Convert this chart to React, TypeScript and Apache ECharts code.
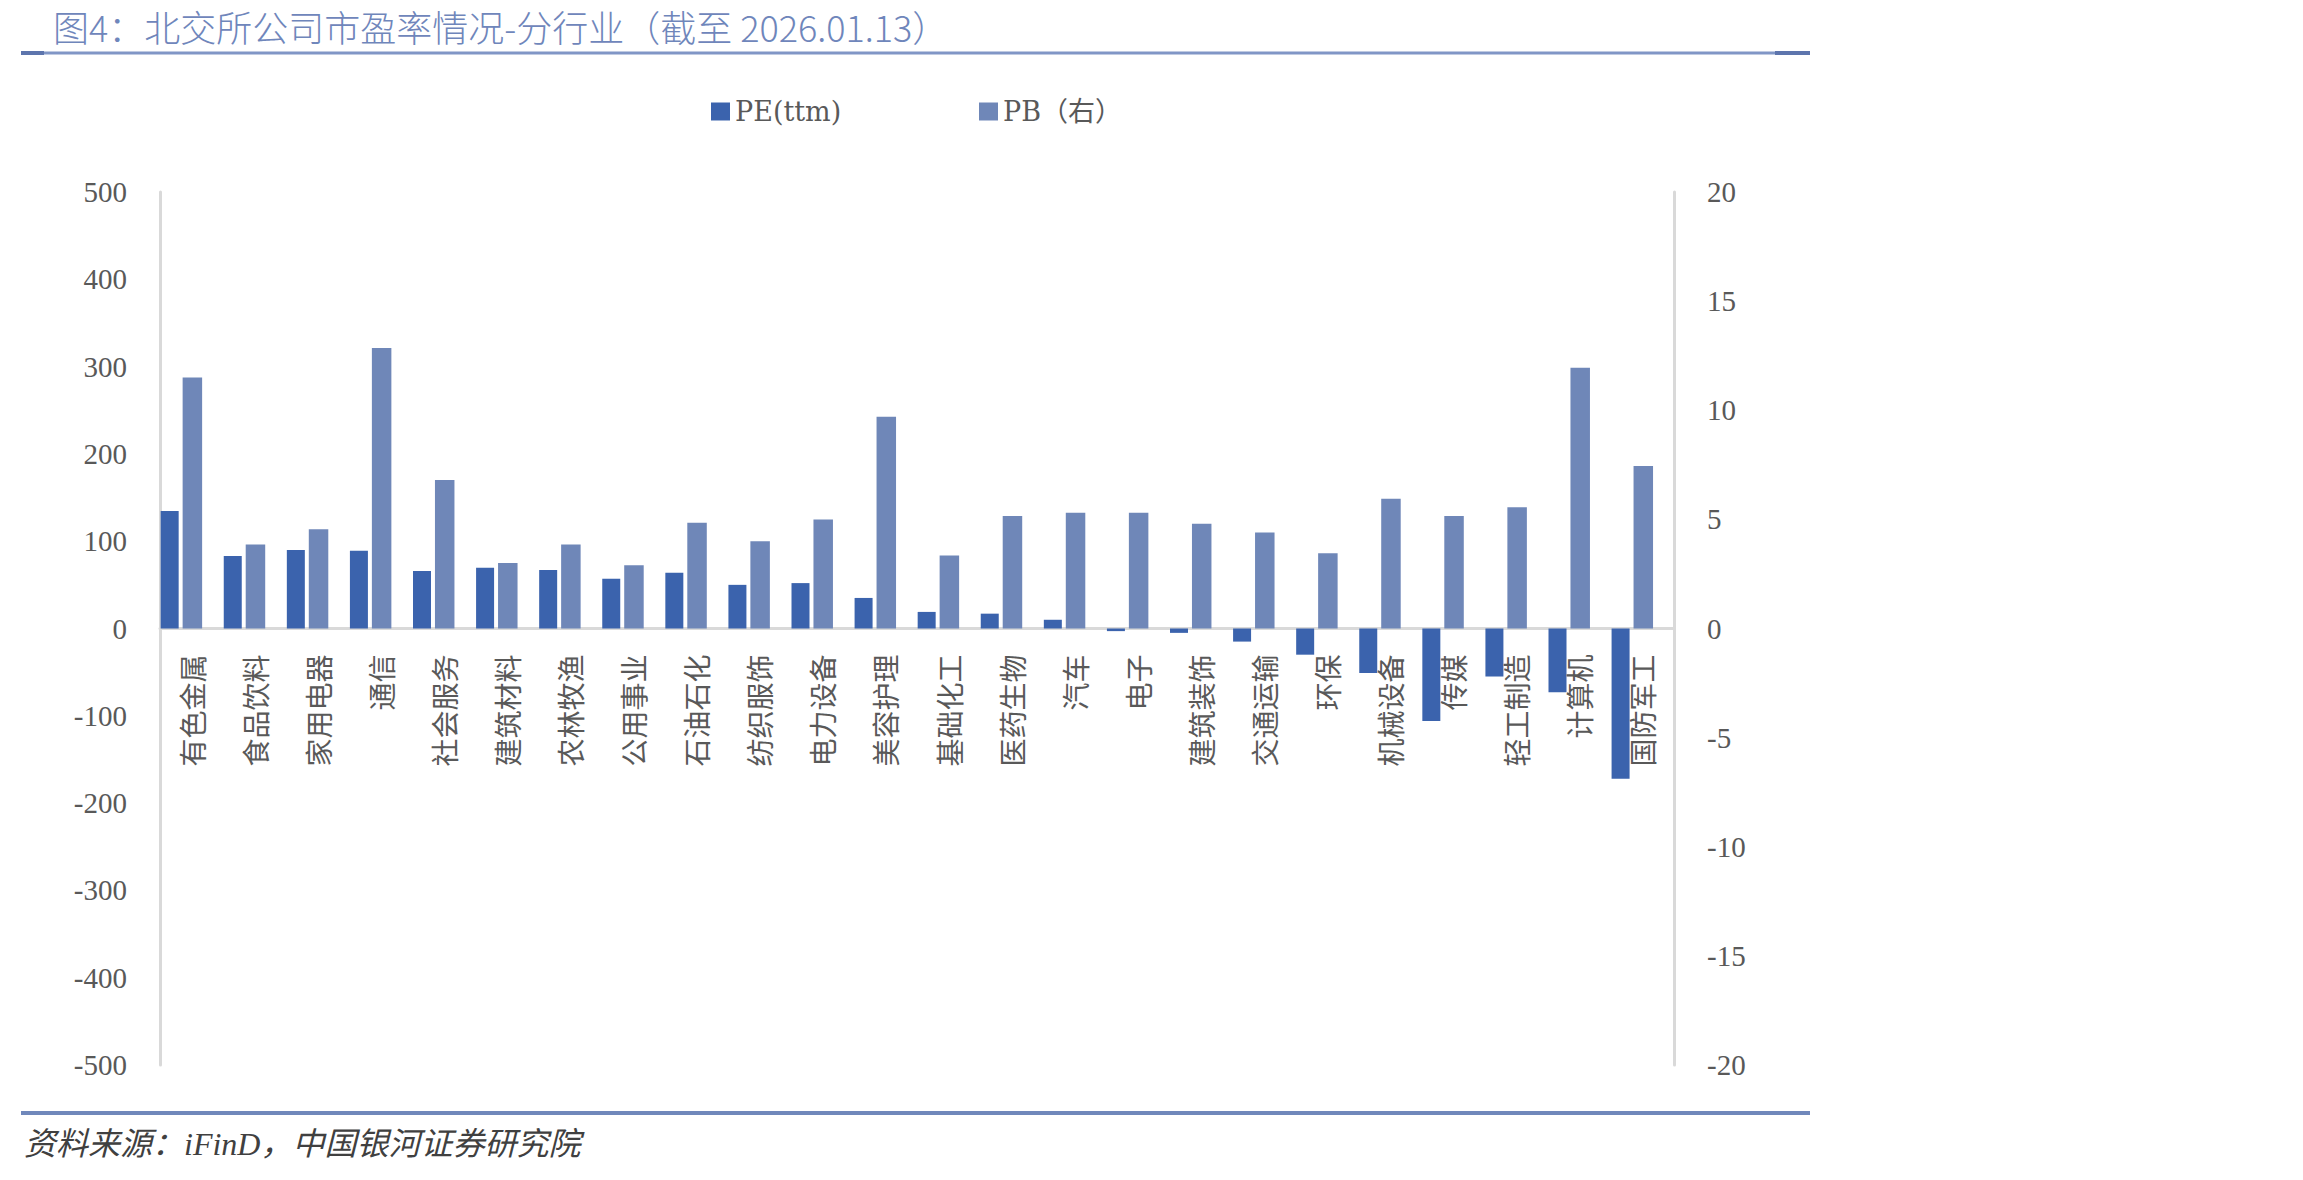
import React, { useEffect, useRef } from "react";
import * as echarts from "echarts";

// 行业分类
const industries = [
  "有色金属", "食品饮料", "家用电器", "通信", "社会服务", "建筑材料",
  "农林牧渔", "公用事业", "石油石化", "纺织服饰", "电力设备", "美容护理",
  "基础化工", "医药生物", "汽车", "电子", "建筑装饰", "交通运输",
  "环保", "机械设备", "传媒", "轻工制造", "计算机", "国防军工",
];

// 市盈率 PE(ttm)
const peTtm = [
  134.5, 83, 90, 89, 66, 69.5, 67, 57, 64, 50, 52, 35,
  19, 17, 10, -3, -5, -15, -30, -51, -106, -55, -73, -172,
];

// 市净率 PB（右轴）
const pb = [
  11.5, 3.85, 4.55, 12.85, 6.8, 3.0, 3.85, 2.9, 4.85, 4.0, 5.0, 9.7,
  3.35, 5.15, 5.3, 5.3, 4.8, 4.4, 3.45, 5.95, 5.15, 5.55, 11.95, 7.45,
];

const legendNames = ["PE(ttm)", "PB（右）"];

const titleText = "图4：北交所公司市盈率情况-分行业（截至 2026.01.13）";
const sourceText = "资料来源：iFinD，中国银河证券研究院";

const W = 2303;
const H = 1180;
const SERIF = '"Liberation Serif", "Noto Sans CJK SC", serif';
const SANS = '"Noto Sans CJK SC", "Noto Sans", sans-serif';
const LEGEND_FONT = '"DejaVu Serif", "Noto Sans CJK SC", serif';
const PE_COLOR = "#3b63ad";
const PB_COLOR = "#6f87b8";
const AXIS_GREY = "#d9d9d9";
const TEXT_GREY = "#595959";

// plot area
const GRID_LEFT = 160;
const GRID_RIGHT = 629;
const GRID_TOP = 192;
const GRID_BOTTOM = 115;
const PE_MIN = -500;
const PE_MAX = 500;

export default function App() {
  const ref = useRef<HTMLDivElement>(null);

  useEffect(() => {
    if (!ref.current) return;
    const chart = echarts.init(ref.current, null, { renderer: "svg" });

    // the category axis (line and labels) sits on the left axis' zero
    const plotH = H - GRID_TOP - GRID_BOTTOM;
    const zeroY = GRID_TOP + (PE_MAX / (PE_MAX - PE_MIN)) * plotH;
    const xAxisOffset = zeroY - (H - GRID_BOTTOM);

    chart.setOption({
      animation: false,
      backgroundColor: "#ffffff",
      textStyle: { fontFamily: SERIF },
      graphic: [
        {
          type: "text",
          x: 53,
          y: 26,
          style: {
            text: titleText,
            fontSize: 36,
            fontWeight: 300,
            fontFamily: SANS,
            fill: "#6f86bb",
            verticalAlign: "middle",
          },
        },
        {
          type: "line",
          shape: { x1: 21, y1: 53, x2: 1810, y2: 53 },
          style: { stroke: "#8096c6", lineWidth: 3 },
        },
        {
          type: "line",
          shape: { x1: 21, y1: 53, x2: 44, y2: 53 },
          style: { stroke: "#5d75ad", lineWidth: 4 },
        },
        {
          type: "line",
          shape: { x1: 1775, y1: 53, x2: 1810, y2: 53 },
          style: { stroke: "#5d75ad", lineWidth: 4 },
        },
        {
          type: "line",
          shape: { x1: 21, y1: 1113, x2: 1810, y2: 1113 },
          style: { stroke: "#7088bb", lineWidth: 4 },
        },
        {
          type: "text",
          left: 24,
          top: 1128,
          style: {
            text: sourceText,
            fontSize: 32,
            fontStyle: "italic",
            fontFamily: SERIF,
            fill: "#404040",
          },
        },
      ],
      legend: [
        {
          data: [legendNames[0]],
          left: 706,
          top: 93,
          itemWidth: 19,
          itemHeight: 18,
          icon: "rect",
          textStyle: { fontSize: 27, color: TEXT_GREY, fontFamily: LEGEND_FONT },
        },
        {
          data: [legendNames[1]],
          left: 974,
          top: 93,
          itemWidth: 19,
          itemHeight: 18,
          icon: "rect",
          textStyle: { fontSize: 27, color: TEXT_GREY, fontFamily: LEGEND_FONT },
        },
      ],
      grid: {
        left: GRID_LEFT,
        right: GRID_RIGHT,
        top: GRID_TOP,
        bottom: GRID_BOTTOM,
        containLabel: false,
      },
      xAxis: {
        type: "category",
        data: industries,
        position: "bottom",
        offset: xAxisOffset,
        axisLine: { onZero: false, lineStyle: { color: AXIS_GREY, width: 3 } },
        axisTick: { show: false },
        axisLabel: {
          rotate: 90,
          margin: 26,
          fontSize: 28,
          color: TEXT_GREY,
          fontFamily: SANS,
          interval: 0,
        },
        splitLine: { show: false },
      },
      yAxis: [
        {
          type: "value",
          min: PE_MIN,
          max: PE_MAX,
          interval: 100,
          axisLine: { show: true, onZero: false, lineStyle: { color: AXIS_GREY, width: 3 } },
          axisTick: { show: false },
          splitLine: { show: false },
          axisLabel: { fontSize: 29, color: TEXT_GREY, margin: 33, fontFamily: SERIF },
        },
        {
          type: "value",
          min: -20,
          max: 20,
          interval: 5,
          position: "right",
          axisLine: { show: true, onZero: false, lineStyle: { color: AXIS_GREY, width: 3 } },
          axisTick: { show: false },
          splitLine: { show: false },
          axisLabel: { fontSize: 29, color: TEXT_GREY, margin: 33, fontFamily: SERIF },
        },
      ],
      series: [
        {
          name: legendNames[0],
          type: "bar",
          yAxisIndex: 0,
          data: peTtm,
          barWidth: 18,
          barGap: "22%",
          itemStyle: { color: PE_COLOR },
        },
        {
          name: legendNames[1],
          type: "bar",
          yAxisIndex: 1,
          data: pb,
          barWidth: 19.5,
          barGap: "22%",
          itemStyle: { color: PB_COLOR },
        },
        {
          // empty slot to the right of each pair, keeps the pair left of the label
          name: "slot",
          type: "bar",
          yAxisIndex: 1,
          data: [],
          barWidth: 16,
          barGap: "22%",
          silent: true,
        },
      ],
    });

    return () => chart.dispose();
  }, []);

  return (
    <div
      ref={ref}
      style={{ position: "fixed", left: 0, top: 0, width: W, height: H, background: "#fff" }}
    />
  );
}
